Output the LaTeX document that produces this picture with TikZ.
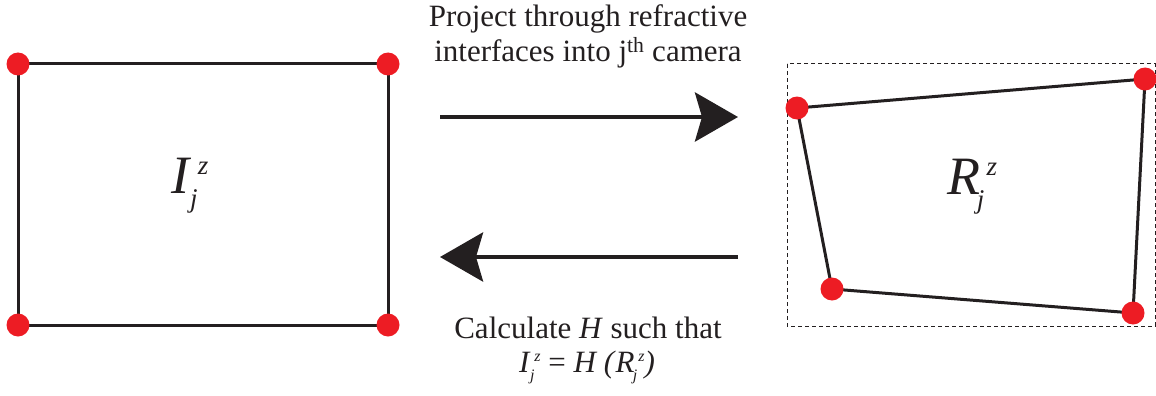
\documentclass[tikz,border=0pt]{standalone}
\usepackage{fontspec}
\setmainfont{Liberation Serif}
\usetikzlibrary{arrows.meta}
\definecolor{dotred}{HTML}{ED1C24}
\definecolor{ink}{HTML}{231F20}
% letter with stacked superscript z and subscript j
% #1 letter, #2 script size, #3 kern before sup, #4 kern before sub
\newcommand{\zjsym}[4]{\textit{#1}\rlap{\kern#4\raisebox{-0.27em}{\fontsize{#2}{#2}\selectfont\textit{j}}}\kern#3\raisebox{0.34em}{\fontsize{#2}{#2}\selectfont\textit{z}}}
\begin{document}
\begin{tikzpicture}[x=1pt,y=-1pt,
 dot/.style={circle,fill=dotred,inner sep=0pt,minimum size=23pt},
 edge/.style={draw=ink,line width=3pt},
 frame/.style={draw=ink,line width=1pt,dash pattern=on 4pt off 3pt},
 bigarrow/.style={draw=ink,line width=4.5pt,-{Stealth[length=43pt,width=49pt,inset=7pt]}},
 caption/.style={font=\fontsize{31}{36}\selectfont,text=ink,anchor=base,inner sep=0pt},
 biglabel/.style={font=\fontsize{54}{60}\selectfont,text=ink,anchor=base west,inner sep=0pt}]
\useasboundingbox (0,0) rectangle (1156,396);
% left rectangle corners
\coordinate (a1) at (18,64);
\coordinate (a2) at (388,64);
\coordinate (a3) at (388,325);
\coordinate (a4) at (18,325);
% right quad corners
\coordinate (b1) at (797,108);
\coordinate (b2) at (1145,79);
\coordinate (b3) at (1133,313);
\coordinate (b4) at (832,289);
% dashed frame
\coordinate (f1) at (787,64);
\coordinate (f2) at (1155,326);
\draw[frame] (f1) rectangle (f2);
\draw[edge] (a1) -- (a2) -- (a3) -- (a4) -- cycle;
\draw[edge] (b1) -- (b2) -- (b3) -- (b4) -- cycle;
\foreach \p in {a1,a2,a3,a4,b1,b2,b3,b4}{\node[dot] (d\p) at (\p) {};}
% labels
\node[biglabel] (lI) at (171,193) {\zjsym{I}{27pt}{0.12em}{-0.02em}};
\node[biglabel] (lR) at (947,194) {\zjsym{R}{27pt}{0.12em}{-0.06em}};
% arrows
\coordinate (t1) at (440,117);
\coordinate (t2) at (738,117);
\coordinate (u1) at (738,257);
\coordinate (u2) at (440,257);
\draw[bigarrow] (t1) -- (t2);
\draw[bigarrow] (u1) -- (u2);
% captions
\node[caption] (c1) at (588,27) {Project through refractive};
\node[caption] (c2) at (588,62) {interfaces into j\textsuperscript{th} camera};
\node[caption] (c3) at (588,338) {Calculate \textit{H} such that};
\node[caption,anchor=base west] (c4) at (519,372) {\zjsym{I}{16pt}{0.12em}{-0.02em} = \textit{H (}\zjsym{R}{16pt}{0.12em}{-0.06em}\textit{)}};
\end{tikzpicture}
\end{document}
